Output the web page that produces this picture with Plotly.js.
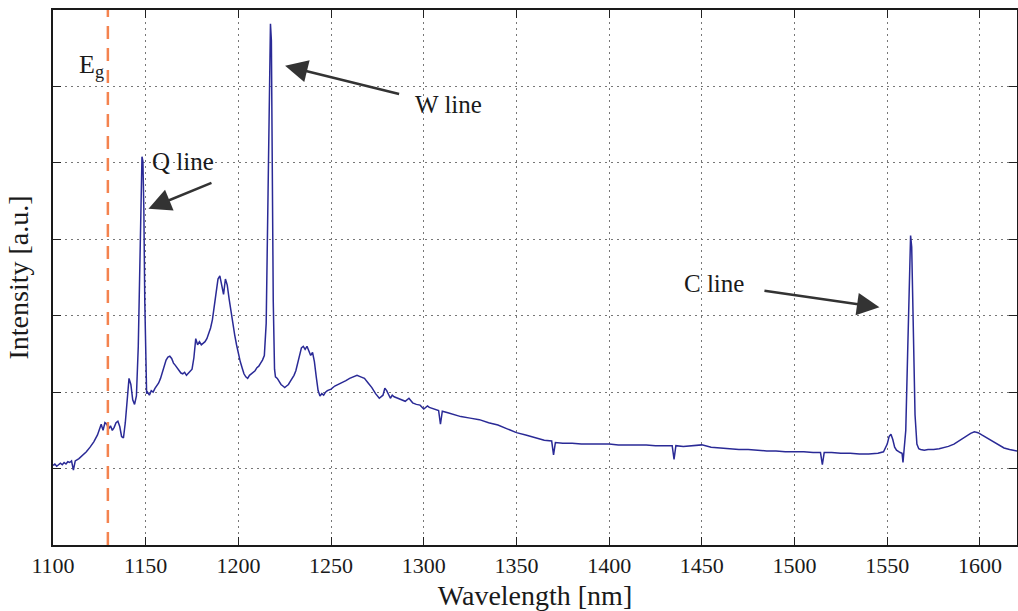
<!DOCTYPE html>
<html>
<head>
<meta charset="utf-8">
<script src="https://cdn.plot.ly/plotly-3.0.1.min.js"></script>
<style>html,body{margin:0;padding:0;background:#fff;}#chart{width:1018px;height:611px;}</style>
</head>
<body>
<div id="chart"></div>
<script>
// Wavelength (nm) and intensity (a.u.)
const wavelength = [1100,1101,1102,1103,1104,1105,1106,1107,1108,1109,1110,1111,1112,1114,1116,1118,1120,1122,1124,1125,1126,1127,1128,1129,1130,1131,1132,1133,1134,1135,1136,1137,1138,1139,1140,1141,1142,1143,1144,1145,1146,1147,1147.5,1148,1148.5,1149,1149.5,1150,1150.5,1151,1152,1153,1154,1155,1156,1157,1158,1159,1160,1161,1162,1163,1164,1165,1166,1167,1168,1169,1170,1171,1172,1173,1174,1175,1176,1177,1178,1179,1180,1181,1182,1183,1184,1185,1186,1187,1188,1189,1190,1191,1192,1193,1194,1195,1196,1197,1198,1199,1200,1201,1202,1203,1204,1205,1206,1207,1208,1209,1210,1211,1212,1213,1214,1215,1216,1216.8,1217.3,1217.8,1218.3,1218.8,1219.5,1220,1221,1222,1223,1224,1225,1226,1227,1228,1229,1230,1231,1232,1233,1234,1235,1236,1237,1238,1239,1240,1241,1242,1243,1244,1245,1246,1247,1248,1250,1252,1254,1256,1258,1260,1262,1264,1266,1268,1270,1272,1274,1276,1278,1279,1280,1281,1282,1283,1284,1286,1288,1290,1292,1294,1296,1298,1300,1302,1303,1306,1308,1309,1310,1313,1316,1320,1325,1330,1335,1340,1345,1350,1355,1360,1365,1369,1370,1371,1375,1380,1385,1390,1395,1400,1405,1410,1415,1420,1425,1430,1434,1435,1436,1440,1445,1450,1455,1460,1465,1470,1475,1480,1485,1490,1495,1500,1505,1510,1514,1515,1516,1520,1525,1530,1535,1540,1545,1548,1550,1551,1552,1553,1554,1555,1556,1557,1558,1558.5,1559,1560,1561,1562,1562.6,1563.2,1564,1565,1566,1567,1568,1570,1572,1575,1578,1580,1583,1586,1589,1592,1595,1597,1599,1601,1604,1607,1610,1613,1616,1620];
const intensity = [1.04,1.06,1.03,1.05,1.07,1.05,1.08,1.06,1.09,1.08,1.10,0.98,1.10,1.13,1.17,1.22,1.28,1.35,1.44,1.52,1.58,1.50,1.60,1.58,1.52,1.56,1.50,1.54,1.60,1.62,1.55,1.42,1.40,1.60,1.95,2.18,2.10,1.90,1.84,1.95,2.6,3.9,4.7,5.08,5.02,4.4,3.2,2.2,1.98,2.00,1.96,2.02,2.00,2.05,2.08,2.12,2.18,2.27,2.35,2.42,2.46,2.47,2.44,2.38,2.35,2.32,2.28,2.25,2.24,2.26,2.22,2.25,2.28,2.30,2.45,2.70,2.62,2.66,2.62,2.64,2.66,2.70,2.76,2.84,2.95,3.12,3.32,3.48,3.52,3.40,3.28,3.48,3.40,3.22,3.05,2.90,2.75,2.62,2.50,2.40,2.32,2.24,2.20,2.18,2.22,2.24,2.26,2.28,2.32,2.34,2.38,2.42,2.48,2.9,4.6,6.2,6.82,6.6,5.0,3.2,2.3,2.2,2.18,2.14,2.10,2.08,2.06,2.08,2.10,2.14,2.18,2.22,2.28,2.38,2.50,2.58,2.60,2.56,2.60,2.55,2.48,2.52,2.40,2.20,2.02,1.95,1.98,1.96,2.00,2.02,2.04,2.08,2.10,2.12,2.15,2.18,2.20,2.22,2.20,2.18,2.12,2.06,1.98,1.92,1.96,2.05,2.02,1.96,1.92,1.96,1.94,1.92,1.90,1.88,1.92,1.86,1.84,1.83,1.78,1.82,1.80,1.78,1.76,1.58,1.75,1.73,1.71,1.68,1.66,1.64,1.60,1.57,1.52,1.47,1.44,1.40,1.37,1.36,1.18,1.34,1.33,1.33,1.32,1.32,1.32,1.32,1.31,1.31,1.31,1.31,1.30,1.30,1.30,1.12,1.30,1.29,1.30,1.31,1.28,1.27,1.26,1.25,1.25,1.24,1.23,1.23,1.22,1.22,1.22,1.21,1.21,1.05,1.21,1.21,1.20,1.20,1.19,1.19,1.20,1.22,1.32,1.42,1.45,1.38,1.28,1.24,1.22,1.21,1.20,1.08,1.22,1.50,2.5,3.7,4.05,3.9,2.8,1.7,1.32,1.26,1.25,1.24,1.25,1.25,1.26,1.27,1.29,1.32,1.37,1.42,1.46,1.48,1.47,1.44,1.40,1.35,1.31,1.27,1.25,1.23];

// Band-gap marker
const egWavelength = 1129.6;

// Annotation labels: text, position, arrow tip and arrow tail offset (px)
const labelTexts = ['Q line', 'W line', 'C line'];
const labelX = [1170, 1313.5, 1456.5];
const labelY = [5.02, 5.76, 3.42];
const arrowTipX = [1151.5, 1225.2, 1545.8];
const arrowTipY = [4.40, 6.27, 3.11];
const arrowAx = [66, 117, -118];
const arrowAy = [-27, 29, -17];

const xTicks = [1100,1150,1200,1250,1300,1350,1400,1450,1500,1550,1600];

const serif = 'Liberation Serif, Times New Roman, serif';

const trace = {
  x: wavelength, y: intensity, type: 'scatter', mode: 'lines',
  line: {color: '#2a2a96', width: 1.5}, hoverinfo: 'skip'
};

const annotations = [];
labelTexts.forEach((t, i) => {
  annotations.push({x: labelX[i], y: labelY[i], xref: 'x', yref: 'y', text: t, showarrow: false,
    font: {family: serif, size: 25, color: '#1a1a1a'}, xanchor: 'center', yanchor: 'middle'});
  annotations.push({x: arrowTipX[i], y: arrowTipY[i], xref: 'x', yref: 'y', text: ' ', showarrow: true,
    ax: arrowAx[i], ay: arrowAy[i], arrowhead: 2, arrowsize: 1.8, arrowwidth: 2.5, arrowcolor: '#333333'});
});
annotations.push({x: 1121, y: 6.27, xref: 'x', yref: 'y', text: 'E<sub>g</sub>', showarrow: false,
  font: {family: serif, size: 26, color: '#1a1a1a'}, xanchor: 'center', yanchor: 'middle'});

const layout = {
  width: 1018, height: 611,
  margin: {l: 53, r: 1, t: 10, b: 66},
  paper_bgcolor: '#ffffff', plot_bgcolor: '#ffffff',
  showlegend: false,
  font: {family: serif, color: '#1a1a1a'},
  xaxis: {
    range: [1100, 1620], tickvals: xTicks, ticktext: xTicks.map(String),
    ticks: 'inside', ticklen: 8, tickwidth: 1, tickcolor: '#222',
    showline: true, linecolor: '#1a1a1a', linewidth: 2, mirror: 'ticks',
    showgrid: true, gridcolor: '#777777', griddash: '1.5px,4.5px', gridwidth: 1,
    zeroline: false,
    tickfont: {family: serif, size: 22, color: '#1a1a1a'},
    title: {text: 'Wavelength [nm]', font: {family: serif, size: 28, color: '#1a1a1a'}, standoff: 8}
  },
  yaxis: {
    range: [0, 7], dtick: 1, tick0: 0, showticklabels: false,
    ticks: 'inside', ticklen: 8, tickwidth: 1, tickcolor: '#222',
    showline: true, linecolor: '#1a1a1a', linewidth: 2, mirror: 'ticks',
    showgrid: true, gridcolor: '#777777', griddash: '1.5px,4.5px', gridwidth: 1,
    zeroline: false,
    title: {text: 'Intensity [a.u.]', font: {family: serif, size: 28, color: '#1a1a1a'}, standoff: 14}
  },
  shapes: [{type: 'line', xref: 'x', yref: 'paper', x0: egWavelength, x1: egWavelength, y0: 0, y1: 1,
    line: {color: '#f4834f', width: 2.5, dash: '13px,9px'}}],
  annotations: annotations
};

Plotly.newPlot('chart', [trace], layout, {displayModeBar: false, staticPlot: true});
</script>
</body>
</html>
